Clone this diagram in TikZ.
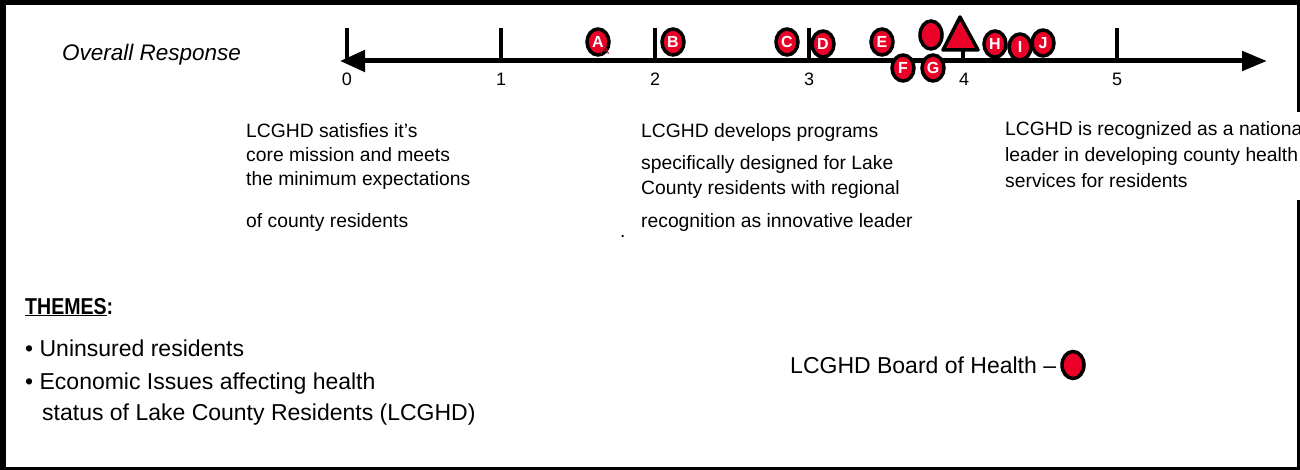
\documentclass[tikz,border=0pt]{standalone}
\usepackage{fontspec}
\setmainfont{Liberation Sans}
\usetikzlibrary{arrows.meta,shapes.geometric}
\definecolor{mred}{RGB}{235,0,40}
\definecolor{dred}{RGB}{175,20,45}
\tikzset{
  mk/.style={ellipse,draw=black,fill=mred,line width=3.5pt,minimum width=22pt,minimum height=26pt,inner sep=0pt,
    text=white,font=\fontsize{16}{16}\selectfont\bfseries},
  tick/.style={line width=4pt},
  num/.style={font=\fontsize{18}{18}\selectfont,anchor=center},
  body/.style={font=\fontsize{19.3}{19.3}\selectfont,anchor=base west,inner sep=0pt},
  big/.style={font=\fontsize{23}{23}\selectfont,anchor=base west,inner sep=0pt},
}
\begin{document}
\begin{tikzpicture}[x=1pt,y=-1pt]
\useasboundingbox (0,0) rectangle (1300,470);
\clip (0,0) rectangle (1300,470);
% frame
\fill[black] (0,0) rectangle (6,470);
\fill[black] (0,0) rectangle (1300,5);
\fill[black] (1297,0) rectangle (1300,470);
\fill[black] (0,467) rectangle (1300,470);

% title
\node[font=\fontsize{22.5}{22.5}\selectfont\itshape,anchor=base west,inner sep=0pt] (title) at (62,61) {Overall Response};

% axis
\coordinate (L) at (340,61);
\coordinate (R) at (1267,61);
\draw[line width=5pt,{Triangle[length=25pt,width=21pt]}-{Triangle[length=25pt,width=19pt]}] (L) -- (R);

% ticks
\foreach \i/\x in {0/347,1/501,2/655,3/809,5/1117}{
  \coordinate (t\i) at (\x,28);
  \coordinate (b\i) at (\x,61);
  \draw[tick] (t\i) -- (b\i);
}
\foreach \i/\x in {0/347,1/501,2/655,3/809,4/964,5/1117}{
  \node[num] (n\i) at (\x,79) {\i};
}

% triangle marker
\coordinate (tb) at (963,50);
\coordinate (ta) at (963,61);
\draw[tick] (tb) -- (ta);
\draw[fill=mred,line width=3.5pt,line join=round] (943,50) -- (960,17) -- (978,50) -- cycle;

% markers
\node[mk] (A) at (598,42) {A};
\node[font=\fontsize{13}{13}\selectfont,text=dred,inner sep=0pt] (Ash) at (605,50) {A};
\node[mk] (B) at (673,42) {B};
\node[mk] (C) at (787,42) {C};
\node[mk] (D) at (823,44) {D};
\node[mk] (E) at (882,42) {E};
\node[mk] (F) at (903,68) {F};
\node[mk] (G) at (933,68) {G};
\node[mk,minimum height=28pt] (M) at (931,35) {};
\node[mk] (H) at (995,44) {H};
\node[mk] (I) at (1020,47) {I};
\node[mk] (J) at (1043,43) {J};

% descriptions
\node[body] (d1a) at (246,138) {LCGHD satisfies it’s};
\node[body] (d1b) at (246,162) {core mission and meets};
\node[body] (d1c) at (246,186) {the minimum expectations};
\node[body] (d1d) at (246,228) {of county residents};

\node[body] (d2a) at (641,138) {LCGHD develops programs};
\node[body] (d2b) at (641,170) {specifically designed for Lake};
\node[body] (d2c) at (641,195) {County residents with regional};
\node[body] (d2d) at (641,228) {recognition as innovative leader};
\node[body] (dot) at (620,238) {.};

\fill[white] (1000,112) rectangle (1300,200);
\node[body] (d3a) at (1005,136) {LCGHD is recognized as a national};
\node[body] (d3b) at (1005,162) {leader in developing county health};
\node[body] (d3c) at (1005,188) {services for residents};

% themes
\node[big,font=\fontsize{23}{23}\selectfont\bfseries] (th) at (25,314) {\scalebox{0.85}[1]{\underline{THEMES}:}};
\node[big] (t1) at (25,356) {• Uninsured residents};
\node[big] (t2) at (25,389) {• Economic Issues affecting health};
\node[big] (t3) at (42,420) {status of Lake County Residents (LCGHD)};

% legend
\node[big] (leg) at (790,373) {LCGHD Board of Health –};
\node[mk,minimum height=27pt] (legm) at (1073,365) {};
\end{tikzpicture}
\end{document}
